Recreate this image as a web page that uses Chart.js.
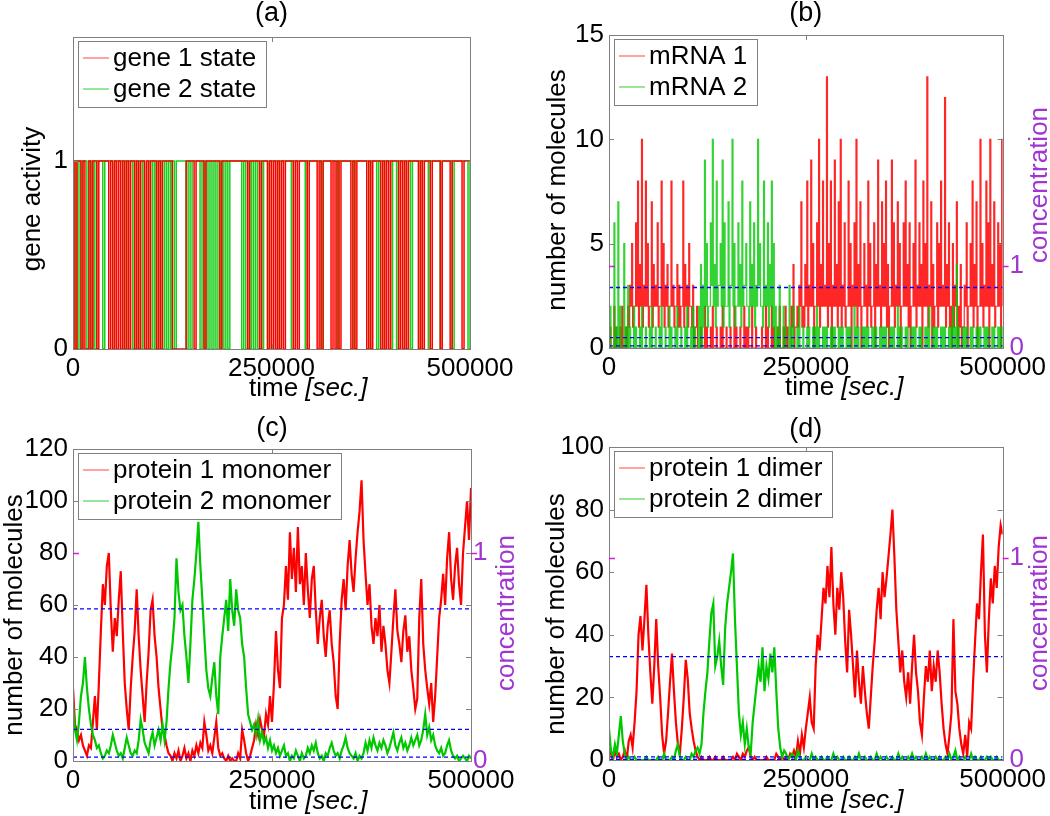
<!DOCTYPE html>
<html>
<head>
<meta charset="utf-8">
<script src="https://cdn.jsdelivr.net/npm/chart.js@4.4.1/dist/chart.umd.min.js"></script>
<style>
  body { margin: 0; background: #fff; width: 1050px; height: 816px; overflow: hidden; }
  canvas { position: absolute; }
</style>
</head>
<body>
<canvas id="panelA" width="525" height="408" style="left:0;top:0"></canvas>
<canvas id="panelB" width="525" height="408" style="left:525px;top:0"></canvas>
<canvas id="panelC" width="525" height="408" style="left:0;top:408px"></canvas>
<canvas id="panelD" width="525" height="408" style="left:525px;top:408px"></canvas>
<script>
// sampled every 2500 sec, 0 .. 500000
const STEP = 2500;
const timeTicks = [0, 250000, 500000];

// (a) gene states
const gene1State = [1,0,1,1,0,1,0,0,1,0,1,1,0, 1,1,1,1,1, 0,1,0,1,0,1,0,
  1,0,1,0,1,1,0,1,0,1,1,0,1,0,1,1,1,0,1,0,
  1,1,1,1,1,0,0,0,0,0,0,0,1,1,1,1,0,1,1,
  1,1,0,1,1,1,1,1,1,1,0,1,1,1,1,1,1,1,1,1,1,
  1,1,1,0,1,1,1,1,1,0,1,1,1,0,1,
  0,1,0,1,0,1,0,1,1,1,1,0,1,0,1,1,1,1,0,1,1,
  1,1,0,1,0,1,1,1,1,0,1,0,1,0,1,1,1,1,1,0,1,0,1,1,1,1,1,
  0,1,0,1,1,1,1,0,1,0,1,0,1,1,1,1,0,1,0,1,0,1,1,1,1,1,0,1,0,1,1,1,0,1,
  1,1,1,0,1,1,1,1,0,1,1,1,1,1,0,1,1,1,1];
const gene2State = [0,1,0,1,0,1,1,0,1,0,1,0,1, 1,1,0,1,1, 1,1,0,1,1,1,1,
  0,1,0,1,1,0,1,0,1,0,1,0,0,1,0,1,0,1,0,1,
  0,1,0,1,0,1,0,1,1,1,1,1,0,1,0,1,1,1,1,
  0,1,0,1,0,1,0,1,0,1,0,1,0,1,0,1,1,1,1,1,1,
  0,1,0,1,0,1,0,1,0,1,0,1,1,0,1,
  1,1,1,0,1,1,1,1,1,1,0,1,1,1,1,1,1,0,1,1,1,
  1,1,1,1,0,1,1,1,1,1,1,1,0,1,1,1,1,1,1,1,0,1,1,1,1,1,1,
  1,0,1,1,1,0,1,1,0,1,1,1,0,1,1,0,1,1,1,0,1,1,0,1,1,1,1,0,1,1,1,0,1,1,
  1,1,1,0,1,1,1,1,1,0,1,1,1,1,1,1,1,0,1];

// (b) mRNA counts: highest and lowest count seen in each 2500 sec bin
const mrna1High = [1,0,2,1,0,1,2,0,1,2, 3,5,2,6,8,4,10,3,8,5, 2,7,4,3,6,2,8,5,3,4, 2,8,3,2,4,3,2,8,4,3,
  5,2,3,1,2,0,1,0,2,1, 0,1,2,0,1,0,1,2,0,1, 0,1,0,2,1,0,1,0,2,1, 1,0,2,0,1,0,0,1,0,2,
  1,0,2,1,0,1,2,0,1,2, 1,0,2,4,1,2,3,7,2,4, 8,3,9,5,2,6,10,4,8,3, 13,5,8,3,9,4,7,10,3,6,
  2,8,5,3,6,10,4,7,2,5, 3,8,5,2,6,4,9,3,7,5, 8,4,2,9,6,3,7,5,2,6, 8,4,6,2,5,9,3,6,4,8,
  5,13,3,7,4,2,6,5,8,3, 12,4,6,2,5,3,7,2,4,1, 3,6,2,5,8,4,7,2,10,5, 3,8,6,10,4,7,2,6,5,10,4];
const mrna1Low = [0,0,0,0,0,0,0,0,0,0, 1,2,1,2,2,1,2,1,2,2, 1,2,1,2,2,1,2,2,1,2, 1,2,2,1,2,1,1,2,1,2,
  1,2,1,0,1,0,0,0,0,0, 0,0,0,0,0,0,0,0,0,0, 0,0,0,0,0,0,0,0,0,0, 0,0,0,0,0,0,0,0,0,0,
  0,0,0,0,0,0,0,0,0,0, 0,0,0,1,0,1,1,2,1,1, 2,1,2,2,0,2,2,1,2,2, 2,1,2,0,2,2,1,2,1,2,
  1,2,2,0,2,2,1,2,0,2, 2,1,2,1,2,0,2,2,1,2, 2,1,0,2,2,1,2,2,0,2, 2,2,1,0,2,2,1,2,2,0,
  2,2,1,2,0,1,2,1,2,2, 2,1,2,1,0,1,2,0,1,0, 1,2,0,2,2,1,2,0,2,2, 1,2,2,0,2,2,1,2,2,0,2];
const mrna2High = [2,0,6,1,7,2,0,5,1,3, 1,0,2,1,0,1,2,0,1,0, 1,2,0,1,0,1,2,0,1,0, 2,1,0,1,2,0,1,0,1,2,
  0,1,2,1,0,2,4,3,9,5, 2,6,10,4,8,3,5,9,6,2, 7,3,10,5,2,6,4,8,3,5, 2,7,4,6,3,10,5,2,8,3,
  6,4,8,5,2,1,3,0,2,1, 0,3,1,2,0,1,2,0,1,0, 1,1,0,1,1,2,1,0,1,1, 1,0,1,1,1,0,1,1,1,0,
  1,1,1,0,2,1,1,0,1,1, 1,1,0,1,1,1,0,1,1,1, 1,0,1,1,1,0,2,1,1,0, 1,1,0,1,1,1,0,1,1,0,
  1,1,2,0,1,1,1,0,1,1, 1,0,1,1,2,1,4,1,0,1, 1,1,0,1,1,0,1,1,1,0, 1,1,1,0,1,1,0,1,1,1,0];
const mrna2Low = [0,0,0,0,0,0,0,0,0,0, 0,0,0,0,0,0,0,0,0,0, 0,0,0,0,0,0,0,0,0,0, 0,0,0,0,0,0,0,0,0,0,
  0,0,0,0,0,0,0,0,1,2, 1,2,3,2,1,2,3,2,1,2, 2,1,3,2,1,2,2,1,2,3, 2,1,2,2,1,2,3,2,1,2,
  2,1,2,1,0,0,0,0,0,0, 0,0,0,0,0,0,0,0,0,0, 0,0,0,0,0,0,0,0,0,0, 0,0,0,0,0,0,0,0,0,0,
  0,0,0,0,0,0,0,0,0,0, 0,0,0,0,0,0,0,0,0,0, 0,0,0,0,0,0,0,0,0,0, 0,0,0,0,0,0,0,0,0,0,
  0,0,0,0,0,0,0,0,0,0, 0,0,0,0,0,0,0,0,0,0, 0,0,0,0,0,0,0,0,0,0, 0,0,0,0,0,0,0,0,0,0,0];
const mrnaMeans = [2.9, 0.5, 0.1];

// (c) protein monomers
const monomer1 = [28,14,12,8,10,6,4,2,6,5, 15,25,12,30,50,68,60,75,80,58, 42,55,48,62,73,50,30,20,12,28,
  40,50,66,48,35,25,15,30,42,58, 62,48,40,28,20,12,10,6,3,2, 0,3,1,4,0,2,5,1,3,0,
  4,2,6,3,7,5,15,10,4,6, 3,9,15,5,2,3,1,0,2,0, 1,0,0,3,1,12,8,3,0,2, 5,8,14,10,16,12,10,18,14,25,
  15,30,50,35,28,55,60,75,62,88, 70,82,65,90,68,75,60,80,66,55, 70,75,58,45,55,62,48,40,52,58,
  45,38,25,20,45,62,70,58,75,85, 72,65,78,88,96,108,85,72,60,68, 52,45,55,48,60,42,52,45,35,30,
  42,55,66,50,45,38,50,56,42,48, 35,28,20,24,55,70,45,35,28,22, 30,15,25,40,55,62,72,60,78,88,
  70,62,75,82,68,60,80,90,100,85,105];
const monomer2 = [22,12,8,15,25,30,40,28,20,14, 10,8,5,6,3,1,2,4,3,6, 10,7,4,2,3,1,5,9,6,3,
  2,4,3,8,16,12,7,5,3,8, 11,6,9,12,8,14,8,15,28,38, 45,55,78,65,58,60,48,40,30,45,
  62,70,80,92,75,62,48,35,28,25, 32,38,25,18,40,48,55,62,50,70, 58,52,66,58,55,45,40,28,18,15,
  12,14,10,16,8,11,7,9,5,8, 4,6,3,5,2,4,6,2,3,0, 2,1,4,2,0,3,1,2,5,3, 6,4,7,3,1,2,0,3,2,5,
  7,4,2,3,1,4,6,9,5,3, 2,1,3,0,2,1,3,7,4,8, 5,9,6,4,7,5,8,6,3,5, 8,11,6,4,7,9,5,7,4,6,
  9,6,8,10,6,8,12,18,10,13, 8,10,6,4,3,5,2,3,6,8, 4,2,1,2,0,1,2,1,0,2,1];
const monomerMeans = [58.5, 12.2, 1.5];

// (d) protein dimers
const dimer1 = [5,2,0,3,1,2,0,1,3,0, 6,8,4,12,22,40,46,35,45,56, 40,28,18,30,45,30,20,8,2,6,
  15,25,34,22,12,5,2,10,20,32, 26,15,10,6,3,1,0,1,0,0, 0,1,0,0,1,0,0,0,1,0,
  0,0,0,1,0,2,1,0,2,1, 3,4,1,0,1,0,0,0,0,0, 1,0,0,0,0,2,1,0,1,0, 1,0,2,1,3,1,6,2,8,4,
  10,15,20,12,10,30,40,35,45,55, 50,62,52,68,50,40,55,48,60,52, 38,28,48,40,30,20,35,25,18,30,
  22,15,10,20,30,38,48,55,45,60, 52,58,65,72,80,65,48,38,28,35, 25,20,28,18,30,40,28,22,12,8,
  20,30,25,35,22,30,25,35,28,18, 10,5,2,8,15,45,22,18,10,5, 2,8,1,12,10,25,38,50,45,60,
  72,40,28,45,58,50,62,55,68,75,72];
const dimer2 = [10,3,1,5,2,8,14,6,2,0, 1,0,0,1,0,0,0,0,0,1, 0,0,0,0,0,1,0,0,2,0,
  0,0,1,0,3,5,1,0,0,1, 0,0,2,1,3,4,2,5,15,22, 28,38,47,50,30,33,38,30,24,42,
  50,55,60,66,45,30,15,8,12,5, 10,4,2,12,18,24,30,25,36,22, 30,26,34,28,36,22,10,4,1,3,
  2,0,1,2,1,0,3,1,0,0, 1,0,0,2,0,1,0,0,1,0, 0,1,0,0,2,0,1,0,0,1, 0,0,1,0,0,1,0,2,0,0,
  1,0,0,1,0,0,2,0,1,0, 0,1,0,0,1,0,0,2,0,1, 0,0,1,0,2,0,1,0,0,1, 0,2,0,1,0,0,1,0,1,0,
  0,1,0,2,0,1,3,0,1,0, 0,1,0,0,2,0,1,0,0,1, 0,0,1,0,1,0,0,1,0,0,0];
const dimerMeans = [33, 1, 0.2];

const RED = '#ff0000';
const GREEN = '#00c800';
const RED_SOFT = 'rgba(255,0,0,0.85)';
const GREEN_SOFT = 'rgba(0,200,0,0.8)';
const BLUE = '#0000ff';
const PURPLE = '#a035d2';
const MAGENTA = '#d81ad8';
const AXIS_GRAY = '#808080';
const FONT = '"Liberation Sans", Arial, sans-serif';

Chart.defaults.font.family = FONT;
Chart.defaults.font.size = 26;
Chart.defaults.color = '#000';

const toPoints = arr => arr.map((v, i) => ({ x: i * STEP, y: v }));
// low then high inside every bin, so each bin shows as a vertical stroke
const rangePoints = (lo, hi) => lo.flatMap((v, i) => [{ x: i * STEP, y: v }, { x: i * STEP + STEP / 2, y: hi[i] }]);
const hline = v => [{ x: 0, y: v }, { x: 500000, y: v }];

function series(label, data, color, legendColor, order, width, stepped) {
  return { label, data, borderColor: color, legendColor, borderWidth: width,
           pointRadius: 0, stepped: stepped, order: order, tension: 0 };
}
function meanLines(values) {
  return values.map(v => ({ label: '', data: hline(v), borderColor: BLUE, borderWidth: 1.3,
    borderDash: [4, 3], pointRadius: 0, order: 0 }));
}

// draws the MATLAB-like box, inward ticks, legend and all the axis texts
const matlabFrame = {
  id: 'matlabFrame',
  afterDraw(chart, args, o) {
    const { ctx, chartArea: a, scales } = chart;
    const sx = scales.x, sy = scales.y;
    ctx.save();
    ctx.strokeStyle = AXIS_GRAY;
    ctx.lineWidth = 1;
    ctx.beginPath();
    sx.ticks.forEach(t => {
      const px = Math.round(sx.getPixelForValue(t.value)) + 0.5;
      ctx.moveTo(px, a.bottom); ctx.lineTo(px, a.bottom - 5);
      ctx.moveTo(px, a.top); ctx.lineTo(px, a.top + 5);
    });
    sy.ticks.forEach(t => {
      const py = Math.round(sy.getPixelForValue(t.value)) + 0.5;
      ctx.moveTo(a.left, py); ctx.lineTo(a.left + 5, py);
      ctx.moveTo(a.right, py); ctx.lineTo(a.right - 5, py);
    });
    ctx.stroke();
    ctx.strokeRect(Math.round(a.left) + 0.5, Math.round(a.top) + 0.5,
                   Math.round(a.width), Math.round(a.height));

    // concentration "1" marks
    if (o.oneVal !== undefined) {
      const py = Math.round(sy.getPixelForValue(o.oneVal)) + 0.5;
      ctx.strokeStyle = MAGENTA;
      ctx.lineWidth = 1.5;
      ctx.beginPath();
      ctx.moveTo(a.left, py); ctx.lineTo(a.left + 6, py);
      ctx.moveTo(a.right, py); ctx.lineTo(a.right + 6, py);
      ctx.stroke();
    }

    // legend
    ctx.font = '26px ' + FONT;
    const items = o.legend.map(i => chart.data.datasets[i]);
    const tw = Math.max(...items.map(d => ctx.measureText(d.label).width));
    const bx = a.left + 5, by = a.top + 4, bw = 40 + tw + 5, bh = 66;
    ctx.fillStyle = '#fff';
    ctx.fillRect(bx, by, bw, bh);
    ctx.strokeStyle = AXIS_GRAY;
    ctx.lineWidth = 1;
    ctx.strokeRect(Math.round(bx) + 0.5, Math.round(by) + 0.5, Math.round(bw), bh);
    items.forEach((d, k) => {
      const ry = Math.round(by + 17 + k * 31);
      ctx.strokeStyle = d.legendColor;
      ctx.lineWidth = 1.4;
      ctx.beginPath();
      ctx.moveTo(bx + 5, ry); ctx.lineTo(bx + 31, ry);
      ctx.stroke();
      ctx.fillStyle = '#000';
      ctx.textAlign = 'left';
      ctx.textBaseline = 'middle';
      ctx.fillText(d.label, bx + 35, ry + 1);
    });

    // panel title
    ctx.fillStyle = '#000';
    ctx.font = '27px ' + FONT;
    ctx.textAlign = 'center';
    ctx.textBaseline = 'middle';
    ctx.fillText(o.title, (a.left + a.right) / 2, o.titleY);

    // x label: time [sec.]
    ctx.textAlign = 'left';
    ctx.textBaseline = 'alphabetic';
    const x0 = a.left + 176;
    ctx.font = '26px ' + FONT;
    const w1 = ctx.measureText('time ').width;
    ctx.fillText('time ', x0, o.xlabY);
    ctx.font = 'italic 26px ' + FONT;
    ctx.fillText('[sec.]', x0 + w1, o.xlabY);

    // y labels
    ctx.font = '26px ' + FONT;
    ctx.textAlign = 'center';
    ctx.textBaseline = 'middle';
    ctx.save();
    ctx.translate(o.ylab[1], o.ylab[2]);
    ctx.rotate(-Math.PI / 2);
    ctx.fillText(o.ylab[0], 0, 0);
    ctx.restore();
    if (o.rlab) {
      ctx.save();
      ctx.fillStyle = PURPLE;
      ctx.translate(o.rlab[0], o.rlab[1]);
      ctx.rotate(-Math.PI / 2);
      ctx.fillText('concentration', 0, 0);
      ctx.restore();
    }
    ctx.restore();
  }
};

function makePanel(id, p) {
  const scales = {
    x: {
      type: 'linear', min: 0, max: 500000,
      afterBuildTicks: s => { s.ticks = timeTicks.map(v => ({ value: v })); },
      afterFit: s => { s.height = p.box[3]; },
      grid: { display: false, drawTicks: false },
      border: { display: false },
      ticks: { padding: 4, maxRotation: 0, autoSkip: false, callback: v => String(v) }
    },
    y: {
      type: 'linear', min: 0, max: p.yMax,
      afterBuildTicks: s => { s.ticks = p.yTicks.map(v => ({ value: v })); },
      afterFit: s => { s.width = p.box[0]; },
      grid: { display: false, drawTicks: false },
      border: { display: false },
      ticks: { padding: 5, callback: v => String(v) }
    }
  };
  if (p.oneVal !== undefined) {
    scales.y2 = {
      type: 'linear', position: 'right', min: 0, max: p.yMax / p.oneVal,
      afterBuildTicks: s => { s.ticks = [{ value: 0 }, { value: 1 }]; },
      afterFit: s => { s.width = p.box[1]; },
      grid: { display: false, drawTicks: false },
      border: { display: false },
      ticks: { padding: p.rPad, color: PURPLE, callback: v => String(v) }
    };
  }
  return new Chart(document.getElementById(id), {
    type: 'line',
    data: { datasets: p.datasets },
    options: {
      responsive: false,
      animation: false,
      events: [],
      layout: { padding: { left: 0, top: p.box[2], bottom: 0, right: p.oneVal === undefined ? p.box[1] : 0 } },
      scales: scales,
      plugins: {
        legend: { display: false },
        tooltip: { enabled: false },
        matlabFrame: p.frame
      }
    },
    plugins: [matlabFrame]
  });
}

makePanel('panelA', {
  box: [73, 55, 37, 59], yMax: 1.66, yTicks: [0, 1],
  datasets: [
    series('gene 1 state', toPoints(gene1State), RED, '#ff7a7a', 1, 1.5, true),
    series('gene 2 state', toPoints(gene2State), 'rgba(0,200,0,0.9)', '#6cd86c', 2, 1.5, true)
  ],
  frame: { legend: [0, 1], title: '(a)', titleY: 14, xlabY: 396, ylab: ['gene activity', 33, 199] }
});

makePanel('panelB', {
  box: [84, 44, 35, 60], yMax: 15, yTicks: [0, 5, 10, 15], oneVal: 3.93, rPad: 7,
  datasets: [
    series('mRNA 1', rangePoints(mrna1Low, mrna1High), RED_SOFT, '#ff7a7a', 2, 1.2, true),
    series('mRNA 2', rangePoints(mrna2Low, mrna2High), GREEN_SOFT, '#6cd86c', 1, 1.2, true)
  ].concat(meanLines(mrnaMeans)),
  frame: { legend: [0, 1], title: '(b)', titleY: 14, xlabY: 395, oneVal: 3.93,
           ylab: ['number of molecules', 33, 190], rlab: [515, 185] }
});

makePanel('panelC', {
  box: [73, 54, 41, 55], yMax: 120, yTicks: [0, 20, 40, 60, 80, 100, 120], oneVal: 80, rPad: 2,
  datasets: [
    series('protein 1 monomer', toPoints(monomer1), RED, '#ff7a7a', 2, 2.2, false),
    series('protein 2 monomer', toPoints(monomer2), GREEN, '#6cd86c', 1, 2.2, false)
  ].concat(meanLines(monomerMeans)),
  frame: { legend: [0, 1], title: '(c)', titleY: 21, xlabY: 401, oneVal: 80,
           ylab: ['number of molecules', 15, 207], rlab: [507, 205] }
});

makePanel('panelD', {
  box: [84, 44, 39, 56], yMax: 100, yTicks: [0, 20, 40, 60, 80, 100], oneVal: 64.5, rPad: 7,
  datasets: [
    series('protein 1 dimer', toPoints(dimer1), RED, '#ff7a7a', 2, 2.2, false),
    series('protein 2 dimer', toPoints(dimer2), GREEN, '#6cd86c', 1, 2.2, false)
  ].concat(meanLines(dimerMeans)),
  frame: { legend: [0, 1], title: '(d)', titleY: 22, xlabY: 400, oneVal: 64.5,
           ylab: ['number of molecules', 32, 206], rlab: [515, 205] }
});
</script>
</body>
</html>
